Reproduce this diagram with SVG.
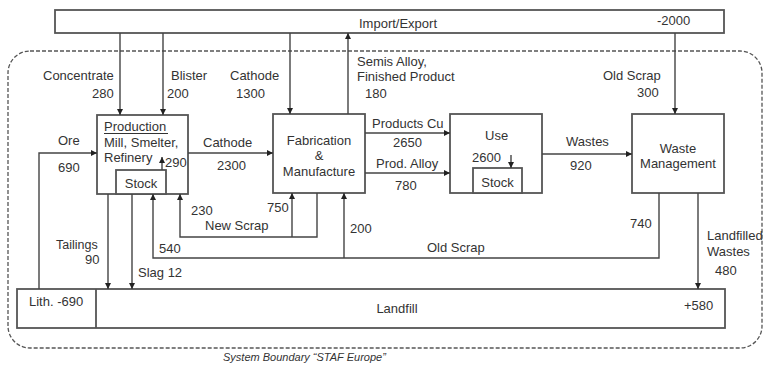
<svg xmlns="http://www.w3.org/2000/svg" width="765" height="366" viewBox="0 0 765 366">
<defs>
<marker id="ah" viewBox="0 0 10 10" refX="10" refY="5" markerWidth="6" markerHeight="6" orient="auto" markerUnits="userSpaceOnUse">
<path d="M0,0 L10,5 L0,10 Z" fill="#222"/>
</marker>
</defs>
<style>
.box{fill:#fff;stroke:#555;stroke-width:1.8}
.ln{fill:none;stroke:#444;stroke-width:1.4}
.ar{fill:none;stroke:#444;stroke-width:1.4;marker-end:url(#ah)}
text{font-family:"Liberation Sans",Arial,sans-serif;font-size:13px;fill:#333}
.c{text-anchor:middle}
</style>
<rect width="765" height="366" fill="#fff"/>
<rect x="8" y="51" width="754" height="297" rx="22" fill="none" stroke="#555" stroke-width="1.3" stroke-dasharray="4 2"/>

<g id="import-export">
<rect class="box" x="55" y="10" width="669" height="23"/>
<text class="c" x="398" y="28">Import/Export</text>
<text x="657" y="25">-2000</text>
</g>

<g id="production">
<rect class="box" x="97" y="115" width="91" height="79"/>
<text x="104" y="131">Production</text>
<line x1="104" y1="133.5" x2="168" y2="133.5" stroke="#333" stroke-width="1"/>
<text x="104" y="147">Mill, Smelter,</text>
<text x="104" y="162">Refinery</text>
<rect class="box" x="116" y="170" width="50" height="24"/>
<text class="c" x="141" y="188">Stock</text>
</g>

<g id="fabrication">
<rect class="box" x="273" y="114" width="92" height="79"/>
<text class="c" x="319" y="145">Fabrication</text>
<text class="c" x="319" y="160">&amp;</text>
<text class="c" x="319" y="176">Manufacture</text>
</g>

<g id="use">
<rect class="box" x="450" y="114" width="92" height="79"/>
<text x="485" y="140">Use</text>
<rect class="box" x="473" y="168" width="49" height="25"/>
<text class="c" x="497.5" y="187">Stock</text>
</g>

<g id="waste-management">
<rect class="box" x="632" y="114" width="92" height="79"/>
<text class="c" x="678" y="153">Waste</text>
<text class="c" x="678" y="168">Management</text>
</g>

<g id="landfill">
<rect class="box" x="17" y="289" width="708" height="39"/>
<line x1="96" y1="289" x2="96" y2="328" stroke="#555" stroke-width="1.8"/>
<text x="29" y="306">Lith. -690</text>
<text class="c" x="397" y="313">Landfill</text>
<text x="684" y="310">+580</text>
</g>

<g id="connectors">
<line class="ar" x1="120" y1="33" x2="120" y2="115"/>
<line class="ar" x1="163" y1="33" x2="163" y2="115"/>
<line class="ar" x1="290" y1="33" x2="290" y2="114"/>
<line class="ar" x1="348" y1="114" x2="348" y2="33"/>
<line class="ar" x1="675" y1="33" x2="675" y2="114"/>
<polyline class="ar" points="39,289 39,153 97,153"/>
<line class="ar" x1="188" y1="153" x2="273" y2="153"/>
<line class="ar" x1="365" y1="133" x2="450" y2="133"/>
<line class="ar" x1="365" y1="173" x2="450" y2="173"/>
<line class="ar" x1="542" y1="154" x2="632" y2="154"/>
<line class="ar" x1="162" y1="170" x2="162" y2="157"/>
<line class="ar" x1="511" y1="155" x2="511" y2="168"/>
<line class="ar" x1="108" y1="194" x2="108" y2="289"/>
<line class="ar" x1="132" y1="194" x2="132" y2="289"/>
<polyline class="ar" points="317,193 317,237 180,237 180,194"/>
<line class="ar" x1="292" y1="237" x2="292" y2="193"/>
<polyline class="ar" points="659,193 659,258 153,258 153,194"/>
<line class="ar" x1="344" y1="258" x2="344" y2="193"/>
<line class="ar" x1="698" y1="193" x2="698" y2="289"/>
</g>

<g id="labels">
<text x="43" y="80">Concentrate</text>
<text x="92" y="98">280</text>
<text x="171" y="80">Blister</text>
<text x="167" y="98">200</text>
<text x="230" y="80">Cathode</text>
<text x="236" y="98">1300</text>
<text x="357" y="66">Semis Alloy,</text>
<text x="357" y="81">Finished Product</text>
<text x="365" y="98">180</text>
<text x="603" y="80">Old Scrap</text>
<text x="637" y="97">300</text>
<text x="58" y="145">Ore</text>
<text x="58" y="172">690</text>
<text x="203" y="147">Cathode</text>
<text x="217" y="170">2300</text>
<text x="165" y="167">290</text>
<text x="372" y="128">Products Cu</text>
<text x="393" y="147">2650</text>
<text x="376" y="168">Prod. Alloy</text>
<text x="395" y="190">780</text>
<text x="472" y="162">2600</text>
<text x="566" y="146">Wastes</text>
<text x="570" y="170">920</text>
<text x="191" y="215">230</text>
<text x="205" y="230">New Scrap</text>
<text x="267" y="212">750</text>
<text x="350" y="233">200</text>
<text x="159" y="253">540</text>
<text x="427" y="252">Old Scrap</text>
<text x="630" y="228">740</text>
<text x="707" y="240">Landfilled</text>
<text x="707" y="256">Wastes</text>
<text x="715" y="275">480</text>
<text x="56" y="249" style="font-size:12.5px">Tailings</text>
<text x="85" y="264">90</text>
<text x="138" y="277">Slag 12</text>
<text x="223" y="361" style="font-size:11px;font-style:italic">System Boundary “STAF Europe”</text>
</g>
</svg>
